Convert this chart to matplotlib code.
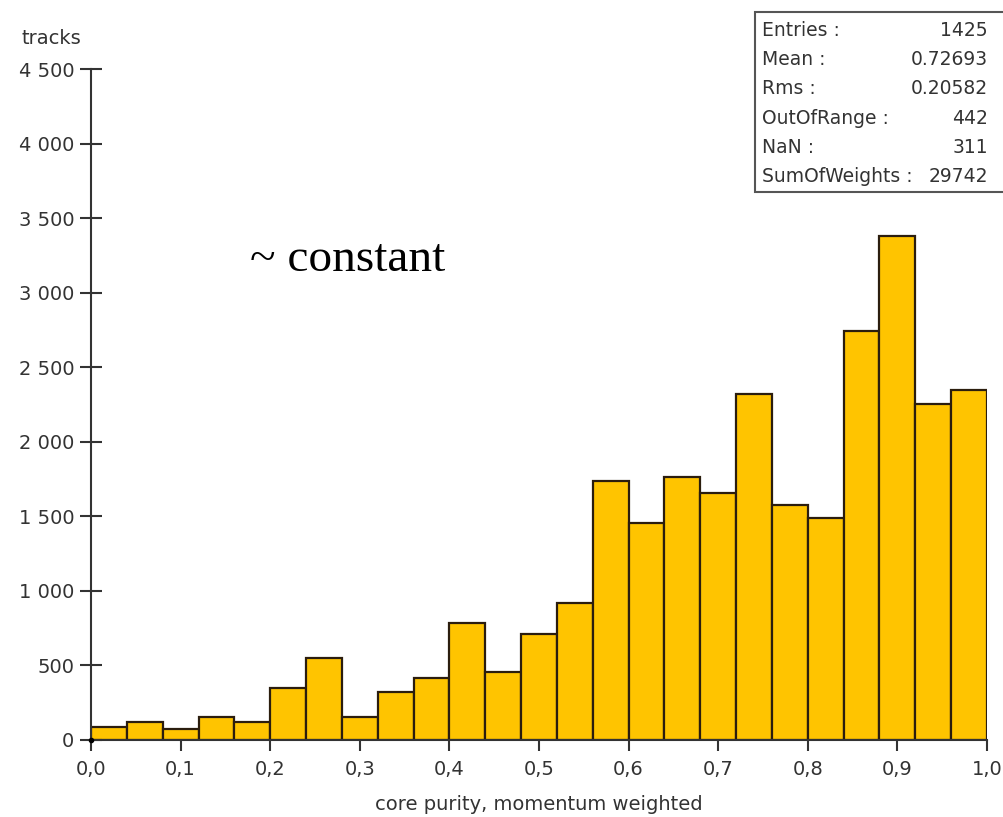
import numpy as np
import matplotlib.pyplot as plt
from matplotlib.ticker import FuncFormatter
from matplotlib.patches import Rectangle

# core purity histogram, 25 bins of 0.04 between 0 and 1
bin_lo = 0.0
bin_hi = 1.0
tracks = [85, 120, 70, 150, 120, 347, 545, 150, 320, 414, 784, 452, 706,
          916, 1737, 1451, 1763, 1656, 2319, 1576, 1487, 2746, 3379, 2254, 2346]

stat_names = ['Entries :', 'Mean :', 'Rms :', 'OutOfRange :', 'NaN :', 'SumOfWeights :']
stat_values = ['1425', '0.72693', '0.20582', '442', '311', '29742']

W, H = 1004, 817
fig = plt.figure(figsize=(W / 100, H / 100), dpi=100)
ax = fig.add_axes([91 / W, (H - 739.5) / H, 896 / W, 670.2 / H])

edges = np.linspace(bin_lo, bin_hi, len(tracks) + 1)
ax.bar(edges[:-1], tracks, width=edges[1] - edges[0], align='edge',
       color='#ffc400', edgecolor='#2b1d0e', linewidth=1.6)
ax.plot(0, 0, 'k.', markersize=6, clip_on=False, zorder=5)

ax.set_xlim(0, 1)
ax.set_ylim(0, 4500)
ax.set_xticks(np.arange(0, 1.01, 0.1))
ax.set_yticks(np.arange(0, 4501, 500))
ax.xaxis.set_major_formatter(FuncFormatter(lambda v, p: ('%.1f' % v).replace('.', ',')))
ax.yaxis.set_major_formatter(FuncFormatter(lambda v, p: '{:,}'.format(int(v)).replace(',', ' ')))

for s in ['top', 'right']:
    ax.spines[s].set_visible(False)
for s in ['left', 'bottom']:
    ax.spines[s].set_color('#333333')
    ax.spines[s].set_linewidth(1.5)

ax.tick_params(axis='y', direction='inout', length=16, width=1.5, color='#333333',
               labelsize=14, pad=4, labelcolor='#333333')
ax.tick_params(axis='x', direction='out', length=8, width=1.5, color='#333333',
               labelsize=14, pad=7, labelcolor='#333333')

ax.set_xlabel('core purity, momentum weighted', fontsize=14, color='#333333', labelpad=11)
fig.text(22 / W, 1 - 44 / H, 'tracks', fontsize=14, color='#333333', va='baseline')

fig.text(250 / W, 1 - 271 / H, '~ constant', fontsize=34, family='Liberation Serif',
         va='baseline')

# statistics box
box = Rectangle((755 / W, 1 - 192 / H), 280 / W, 180 / H, transform=fig.transFigure,
                facecolor='white', edgecolor='#555555', linewidth=1.5)
fig.patches.append(box)
for i in range(len(stat_names)):
    y = 1 - (30 + i * 29.4) / H
    fig.text(762 / W, y, stat_names[i], fontsize=13.5, color='#333333', va='center')
    fig.text(988 / W, y, stat_values[i], fontsize=13.5, color='#333333', va='center', ha='right')

fig.savefig('out.png', dpi=100)
